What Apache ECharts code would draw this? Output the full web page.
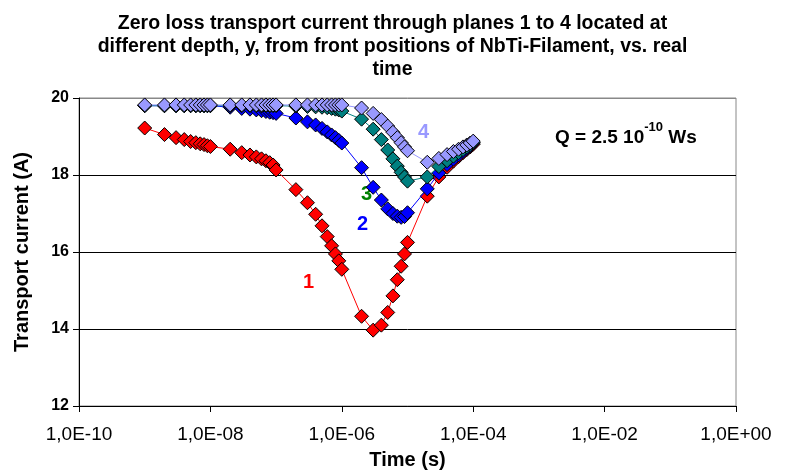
<!DOCTYPE html>
<html>
<head>
<meta charset="utf-8">
<script src="https://cdn.jsdelivr.net/npm/echarts@6/dist/echarts.min.js"></script>
<style>html,body{margin:0;padding:0;background:#fff}#c{width:785px;height:475px}</style>
</head>
<body>
<div id="c"></div>
<script>
var times = [1e-9,2e-9,3e-9,4e-9,5e-9,6e-9,7e-9,8e-9,9e-9,
  1e-8,2e-8,3e-8,4e-8,5e-8,6e-8,7e-8,8e-8,9e-8,
  1e-7,2e-7,3e-7,4e-7,5e-7,6e-7,7e-7,8e-7,9e-7,
  1e-6,2e-6,3e-6,4e-6,5e-6,6e-6,7e-6,8e-6,9e-6,
  1e-5,2e-5,3e-5,4e-5,5e-5,6e-5,7e-5,8e-5,9e-5,
  1e-4];
var plane1 = [19.22,19.05,18.97,18.92,18.87,18.84,18.81,18.79,18.76,
  18.74,18.67,18.58,18.52,18.47,18.42,18.37,18.32,18.26,
  18.13,17.62,17.28,16.98,16.68,16.40,16.16,15.95,15.77,
  15.55,14.33,13.97,14.10,14.43,14.86,15.28,15.63,15.95,
  16.25,17.45,17.95,18.20,18.36,18.48,18.58,18.66,18.73,
  18.80];
var plane2 = [19.80,19.80,19.80,19.80,19.80,19.80,19.80,19.80,19.80,
  19.80,19.76,19.73,19.71,19.69,19.67,19.65,19.63,19.62,
  19.60,19.48,19.38,19.30,19.21,19.12,19.04,18.97,18.90,
  18.83,18.19,17.68,17.35,17.12,17.00,16.93,16.90,16.92,
  17.02,17.64,18.05,18.27,18.41,18.52,18.61,18.69,18.76,
  18.83];
var plane3 = [19.80,19.80,19.80,19.80,19.80,19.80,19.80,19.80,19.80,
  19.80,19.80,19.80,19.80,19.80,19.80,19.80,19.80,19.80,
  19.80,19.79,19.78,19.77,19.76,19.75,19.73,19.71,19.69,
  19.66,19.45,19.19,18.92,18.65,18.42,18.23,18.07,17.95,
  17.84,17.95,18.22,18.37,18.49,18.58,18.66,18.73,18.79,
  18.85];
var plane4 = [19.82,19.82,19.82,19.82,19.82,19.82,19.82,19.82,19.82,
  19.82,19.82,19.82,19.82,19.82,19.82,19.82,19.82,19.82,
  19.82,19.82,19.82,19.82,19.82,19.82,19.82,19.82,19.82,
  19.82,19.74,19.60,19.44,19.27,19.11,18.97,18.84,18.73,
  18.63,18.33,18.43,18.53,18.61,18.67,18.73,18.78,18.83,
  18.88];
var seriesNames = ['1','2','3','4'];
var seriesColors = ['#FF0000','#0000FF','#008080','#9999FF'];
var labelColors = ['#FF0000','#0000FF','#008000','#9999FF'];

function pairs(v){ return times.map(function(t,i){ return [t, v[i]]; }); }
var all = [plane1, plane2, plane3, plane4];

var chart = echarts.init(document.getElementById('c'));
var FONT = 'Liberation Sans, Arial, sans-serif';
chart.setOption({
  animation: false,
  title: {
    text: 'Zero loss transport current through planes 1 to 4 located at\ndifferent depth, y, from front positions of NbTi-Filament, vs. real\ntime',
    left: 'center', top: 7,
    textStyle: {fontFamily: FONT, fontSize: 19.5, fontWeight: 'bold', color: '#000', lineHeight: 23, align: 'center'}
  },
  grid: {left: 79, right: 49, top: 98, bottom: 67, show: true, borderColor: '#888', borderWidth: 1},
  xAxis: {
    type: 'log', logBase: 10, min: 1e-10, max: 1, interval: 2,
    name: 'Time (s)', nameLocation: 'middle', nameGap: 44,
    nameTextStyle: {fontFamily: FONT, fontSize: 20, fontWeight: 'bold', color: '#000'},
    axisLine: {onZero: false, lineStyle: {color: '#000', width: 1}},
    axisTick: {show: true, inside: false, length: 6, lineStyle: {color: '#000'}},
    minorTick: {show: false},
    splitLine: {show: false},
    axisLabel: {fontFamily: FONT, fontSize: 19, color: '#000', margin: 19,
      formatter: function(v){
        var e = Math.round(Math.log(v)/Math.LN10);
        var s = e < 0 ? '-' : '+';
        var a = Math.abs(e);
        return '1,0E' + s + (a < 10 ? '0' + a : '' + a);
      }}
  },
  yAxis: {
    type: 'value', min: 12, max: 20, interval: 2,
    name: 'Transport current (A)', nameLocation: 'middle', nameGap: 47,
    nameTextStyle: {fontFamily: FONT, fontSize: 20, fontWeight: 'bold', color: '#000'},
    axisLine: {show: true, lineStyle: {color: '#000', width: 1}},
    axisTick: {show: true, length: 6, lineStyle: {color: '#000'}},
    splitLine: {show: true, lineStyle: {color: ['#000','#000','#000','#000','#888'], width: 1}},
    axisLabel: {fontFamily: FONT, fontSize: 16, fontWeight: 'bold', color: '#000', margin: 10}
  },
  series: all.map(function(v, k){
    return {
      name: seriesNames[k], type: 'line', data: pairs(v),
      symbol: 'diamond', symbolSize: 14, showAllSymbol: true,
      lineStyle: {color: seriesColors[k], width: 1},
      itemStyle: {color: seriesColors[k], borderColor: '#000', borderWidth: 1},
      z: 2 + k
    };
  }),
  graphic: [
    {type: 'text', left: 303, top: 272, style: {text: seriesNames[0], fill: labelColors[0], font: 'bold 20px ' + FONT}},
    {type: 'text', left: 357, top: 214, style: {text: seriesNames[1], fill: labelColors[1], font: 'bold 20px ' + FONT}},
    {type: 'text', left: 361, top: 184, style: {text: seriesNames[2], fill: labelColors[2], font: 'bold 20px ' + FONT}},
    {type: 'text', left: 418, top: 122, style: {text: seriesNames[3], fill: labelColors[3], font: 'bold 20px ' + FONT}},
    {type: 'text', left: 555, top: 121, style: {
      text: '{a|Q = 2.5 10}{b|-10}{a| Ws}',
      rich: {
        a: {fontFamily: FONT, fontSize: 19, fontWeight: 'bold', fill: '#000', color: '#000', verticalAlign: 'bottom', lineHeight: 26},
        b: {fontFamily: FONT, fontSize: 13, fontWeight: 'bold', fill: '#000', color: '#000', verticalAlign: 'top', lineHeight: 26, padding: [0,0,12,0]}
      }
    }}
  ]
});
</script>
</body>
</html>
